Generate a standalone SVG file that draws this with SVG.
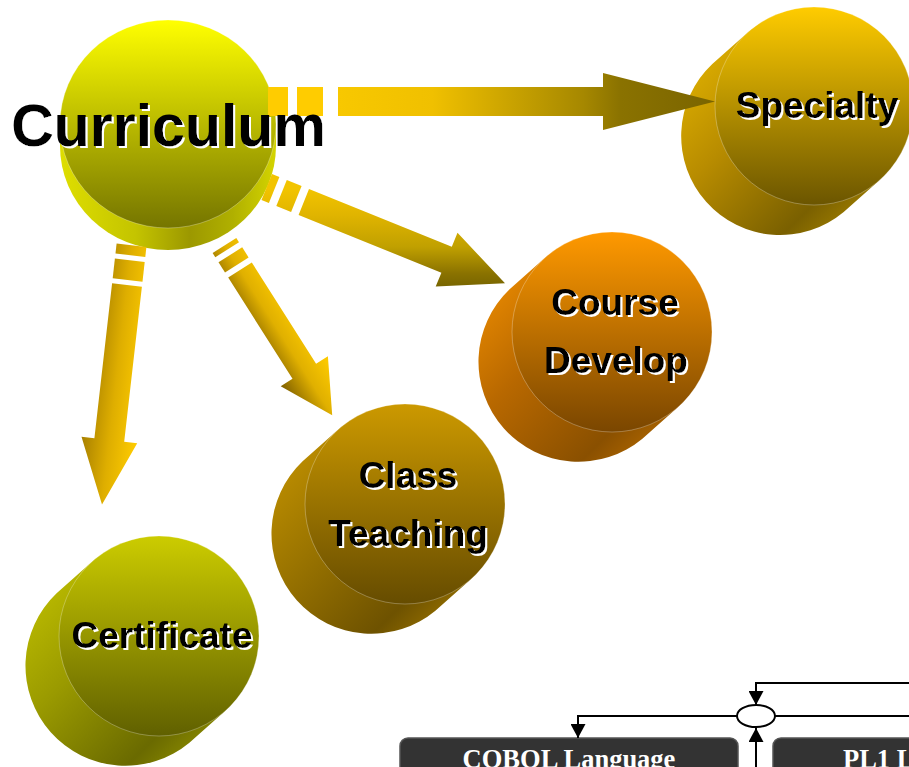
<svg xmlns="http://www.w3.org/2000/svg" width="909" height="767" viewBox="0 0 909 767">
<style>
.lbl{font-family:"Liberation Sans",Arial,Helvetica,sans-serif;font-weight:bold;text-anchor:middle;font-size:37px;fill:#000000;filter:url(#ws)}
.big{font-size:59px;filter:url(#wsb)}
.face{stroke:#ffffff;stroke-opacity:0.35;stroke-width:0.8}
.ln{fill:none;stroke:#000;stroke-width:2}
.box{fill:#333333;stroke:#555555;stroke-width:1.5}
.boxt{font-family:"Liberation Serif","Times New Roman",serif;font-weight:bold;font-size:26.5px;fill:#ffffff}
</style>
<defs>
<filter id="ws" x="-5%" y="-15%" width="112%" height="135%">
<feOffset in="SourceAlpha" dx="1.5" dy="1.5" result="o"/>
<feFlood flood-color="#ffffff"/>
<feComposite in2="o" operator="in" result="w"/>
<feMerge><feMergeNode in="w"/><feMergeNode in="SourceGraphic"/></feMerge>
</filter>
<filter id="wsb" x="-5%" y="-15%" width="112%" height="135%">
<feOffset in="SourceAlpha" dx="2" dy="2" result="o"/>
<feFlood flood-color="#ffffff"/>
<feComposite in2="o" operator="in" result="w"/>
<feMerge><feMergeNode in="w"/><feMergeNode in="SourceGraphic"/></feMerge>
</filter>
<linearGradient id="topCur" x1="0" y1="0" x2="0" y2="1"><stop offset="0" stop-color="#ffff00"/><stop offset="1" stop-color="#757500"/></linearGradient>
<linearGradient id="sideCur" gradientUnits="userSpaceOnUse" x1="60" y1="0" x2="276" y2="0"><stop offset="0" stop-color="#dede00"/><stop offset="0.35" stop-color="#c4c400"/><stop offset="0.6" stop-color="#9c9800"/><stop offset="0.8" stop-color="#b0b000"/><stop offset="1" stop-color="#d4d400"/></linearGradient>
<linearGradient id="topSpe" x1="0" y1="0" x2="0" y2="1"><stop offset="0" stop-color="#ffcc00"/><stop offset="1" stop-color="#6b5500"/></linearGradient>
<linearGradient id="sideSpe" x1="0" y1="0" x2="1" y2="1"><stop offset="0" stop-color="#f0c000"/><stop offset="0.4" stop-color="#b88c00"/><stop offset="0.72" stop-color="#7a6000"/><stop offset="1" stop-color="#c8a000"/></linearGradient>
<linearGradient id="topCou" x1="0" y1="0" x2="0" y2="1"><stop offset="0" stop-color="#ff9900"/><stop offset="1" stop-color="#7a4600"/></linearGradient>
<linearGradient id="sideCou" x1="0" y1="0" x2="1" y2="1"><stop offset="0" stop-color="#ff9900"/><stop offset="0.4" stop-color="#b86800"/><stop offset="0.72" stop-color="#8a5000"/><stop offset="1" stop-color="#d88000"/></linearGradient>
<linearGradient id="topCla" x1="0" y1="0" x2="0" y2="1"><stop offset="0" stop-color="#cc9900"/><stop offset="1" stop-color="#664c00"/></linearGradient>
<linearGradient id="sideCla" x1="0" y1="0" x2="1" y2="1"><stop offset="0" stop-color="#d09c00"/><stop offset="0.4" stop-color="#9a7400"/><stop offset="0.72" stop-color="#6e5200"/><stop offset="1" stop-color="#c09000"/></linearGradient>
<linearGradient id="topCer" x1="0" y1="0" x2="0" y2="1"><stop offset="0" stop-color="#cccc00"/><stop offset="1" stop-color="#606000"/></linearGradient>
<linearGradient id="sideCer" x1="0" y1="0" x2="1" y2="1"><stop offset="0" stop-color="#cccc00"/><stop offset="0.4" stop-color="#9a9a00"/><stop offset="0.72" stop-color="#6a6a00"/><stop offset="1" stop-color="#b0b000"/></linearGradient>
<linearGradient id="a1" gradientUnits="userSpaceOnUse" x1="338" y1="0" x2="715" y2="0"><stop offset="0" stop-color="#f8c800"/><stop offset="0.25" stop-color="#f0c000"/><stop offset="0.65" stop-color="#a68800"/><stop offset="0.75" stop-color="#8a7200"/><stop offset="1" stop-color="#7a6400"/></linearGradient>
<linearGradient id="a2" gradientUnits="userSpaceOnUse" x1="0" y1="180" x2="0" y2="290"><stop offset="0.08" stop-color="#f2c400"/><stop offset="0.32" stop-color="#e0b400"/><stop offset="0.61" stop-color="#c0a000"/><stop offset="0.85" stop-color="#8a7200"/><stop offset="1" stop-color="#736200"/></linearGradient>
<linearGradient id="a3" gradientUnits="userSpaceOnUse" x1="327.9" y1="356.3" x2="280.7" y2="386.3"><stop offset="0" stop-color="#ffcc00"/><stop offset="0.5" stop-color="#e0b000"/><stop offset="1" stop-color="#806000"/></linearGradient>
<linearGradient id="a4" gradientUnits="userSpaceOnUse" x1="137.2" y1="443.2" x2="81.5" y2="436.8"><stop offset="0" stop-color="#ffcc00"/><stop offset="0.5" stop-color="#deae00"/><stop offset="1" stop-color="#a88000"/></linearGradient>
<marker id="ah" markerUnits="userSpaceOnUse" markerWidth="14" markerHeight="15" viewBox="0 0 14 15" refX="14" refY="7.5" orient="auto"><path d="M0,0 L14,7.5 L0,15 Z" fill="#000"/></marker>
</defs>

<g id="curriculum">
<path d="M60,124 V146 A108,104 0 0 0 276,146 V124 Z" fill="url(#sideCur)"/>
<ellipse class="face" cx="168" cy="124" rx="108" ry="104" fill="url(#topCur)"/>
</g>

<g id="specialty">
<path d="M748.3,32 L712.3,64 A99,99 0 0 0 843.7,212 L879.7,180 A99,99 0 0 0 748.3,32 Z" fill="url(#sideSpe)"/>
<circle class="face" cx="814" cy="106" r="99" fill="url(#topSpe)"/>
<text class="lbl" x="817" y="118">Specialty</text>
</g>

<g id="course-develop">
<path d="M545.6,257.3 L509.6,289.3 A100,100 0 0 0 642.4,438.7 L678.4,406.7 A100,100 0 0 0 545.6,257.3 Z" fill="url(#sideCou)"/>
<circle class="face" cx="612" cy="332" r="100" fill="url(#topCou)"/>
<text class="lbl" x="615" y="315">Course</text>
<text class="lbl" x="616" y="373">Develop</text>
</g>

<g id="class-teaching">
<path d="M338.6,429.3 L302.6,461.3 A100,100 0 0 0 435.4,610.7 L471.4,578.7 A100,100 0 0 0 338.6,429.3 Z" fill="url(#sideCla)"/>
<circle class="face" cx="405" cy="504" r="100" fill="url(#topCla)"/>
<text class="lbl" x="408" y="488">Class</text>
<text class="lbl" x="408" y="546">Teaching</text>
</g>

<g id="certificate">
<path d="M92.6,561.3 L56.6,593.3 A100,100 0 0 0 189.4,742.7 L225.4,710.7 A100,100 0 0 0 92.6,561.3 Z" fill="url(#sideCer)"/>
<circle class="face" cx="159" cy="636" r="100" fill="url(#topCer)"/>
<text class="lbl" x="162" y="648">Certificate</text>
</g>

<g id="cobol-language">
<rect class="box" x="400" y="738" width="338" height="60" rx="8"/>
<text class="boxt" x="569" y="768" text-anchor="middle">COBOL Language</text>
</g>

<g id="pl1-language">
<rect class="box" x="773" y="738" width="338" height="60" rx="8"/>
<text class="boxt" x="843" y="768">PL1 Language</text>
</g>

<g id="junction">
<ellipse cx="756" cy="716" rx="19" ry="11" fill="#ffffff" stroke="#000" stroke-width="2"/>
</g>

<g id="connectors">
<rect x="268" y="87" width="20" height="29" fill="#ffcc00"/>
<rect x="297" y="87" width="26" height="29" fill="#ffcc00"/>
<path d="M338,87 H603 V73 L715,101.5 L603,130 V116 H338 Z" fill="url(#a1)"/>

<polygon points="272,174 279.4,177 268.9,203 261.5,200" fill="url(#a2)"/>
<polygon points="286.8,180 301.6,186 291.1,212 276.3,206" fill="url(#a2)"/>
<polygon points="309,189 451.8,246.7 457.5,232.8 505,283.3 435.7,286.6 441.4,272.7 298.6,215" fill="url(#a2)"/>

<polygon points="236.3,238 239,242.2 215.3,257.2 212.6,253" fill="url(#a3)"/>
<polygon points="242.2,247.3 248.6,257.4 225,272.4 218.5,262.3" fill="url(#a3)"/>
<polygon points="251.8,262.5 316.1,363.8 327.9,356.3 332.2,415.2 280.7,386.3 292.5,378.8 228.2,277.5" fill="url(#a3)"/>

<polygon points="146.4,247 145.3,256.9 115.5,253.5 116.6,243.6" fill="url(#a4)"/>
<polygon points="144.7,261.9 142.5,281.7 112.7,278.3 114.9,258.5" fill="url(#a4)"/>
<polygon points="141.9,286.7 124.2,441.7 137.2,443.2 102,504.6 81.5,436.8 94.4,438.3 112.1,283.3" fill="url(#a4)"/>

<path class="ln" d="M909,683 H756 V705" marker-end="url(#ah)"/>
<path class="ln" d="M909,716 H775"/>
<path class="ln" d="M737,716 H578 V738" marker-end="url(#ah)"/>
<path class="ln" d="M756,767 V728" marker-end="url(#ah)"/>
</g>

<g id="curriculum-label">
<text class="lbl big" x="168.5" y="145.5">Curriculum</text>
</g>
</svg>
